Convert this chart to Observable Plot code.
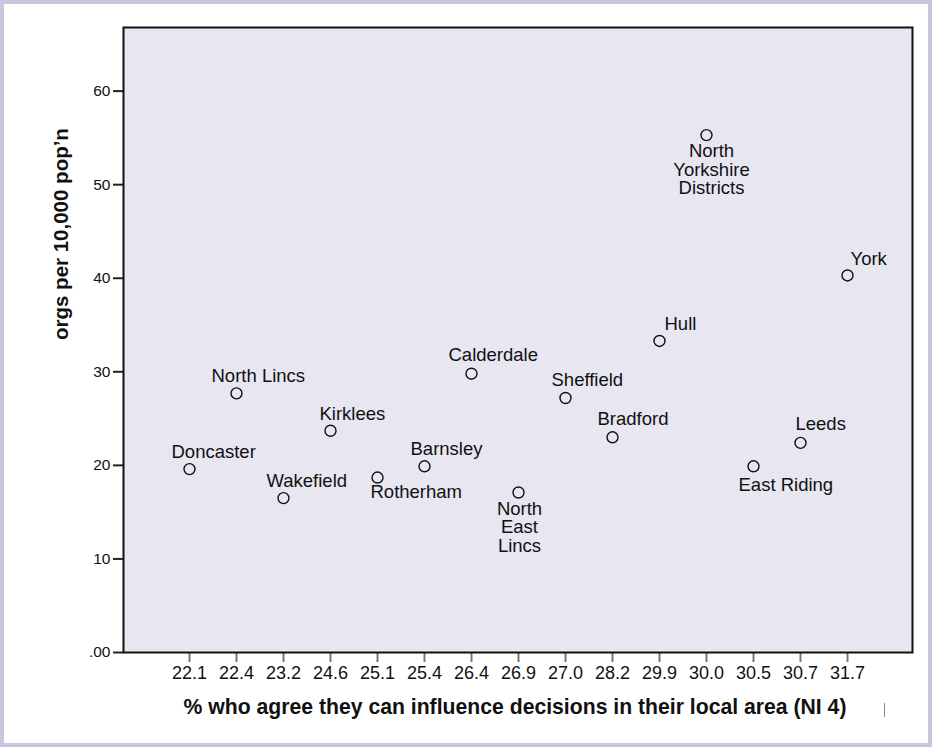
<!DOCTYPE html>
<html>
<head>
<meta charset="utf-8">
<script src="https://cdn.jsdelivr.net/npm/d3@7"></script>
<script src="https://cdn.jsdelivr.net/npm/@observablehq/plot@0.6"></script>
<style>
  html, body { margin: 0; padding: 0; background: #c9c6dd; }
  #wrap { position: absolute; left: 4px; top: 4px; width: 924px; height: 739px; background: #ffffff; }
  #wrap svg { display: block; font-family: "Liberation Sans", Arial, sans-serif; }
  #mark { position: absolute; left: 880px; top: 699px; width: 1px; height: 14px; background: #888; }
</style>
</head>
<body>
<div id="wrap"><div id="mark"></div></div>
<script>
// Data
const xCategories = ["22.1","22.4","23.2","24.6","25.1","25.4","26.4","26.9","27.0","28.2","29.9","30.0","30.5","30.7","31.7"];
const areaNames = ["Doncaster","North Lincs","Wakefield","Kirklees","Rotherham","Barnsley","Calderdale","North\nEast\nLincs","Sheffield","Bradford","Hull","North\nYorkshire\nDistricts","East Riding","Leeds","York"];
const orgsPer10k = [19.6, 27.7, 16.5, 23.7, 18.7, 19.9, 29.8, 17.1, 27.2, 23.0, 33.3, 55.3, 19.9, 22.4, 40.3];
const yTicks = [0, 10, 20, 30, 40, 50, 60];

const data = xCategories.map((x, i) => ({x, name: areaNames[i], y: orgsPer10k[i]}));

// label placement (style, not data)
const place = {
  "Doncaster": {dx: -18, dy: -17, anchor: "start"},
  "North Lincs": {dx: -25, dy: -17, anchor: "start"},
  "Wakefield": {dx: -17, dy: -17, anchor: "start"},
  "Kirklees": {dx: -11, dy: -17, anchor: "start"},
  "Rotherham": {dx: -7, dy: 15, anchor: "start"},
  "Barnsley": {dx: -14, dy: -17, anchor: "start"},
  "Calderdale": {dx: -23, dy: -19, anchor: "start"},
  "North\nEast\nLincs": {dx: 1, dy: 9, anchor: "middle", top: true},
  "Sheffield": {dx: -14, dy: -18, anchor: "start"},
  "Bradford": {dx: -15, dy: -18, anchor: "start"},
  "Hull": {dx: 5, dy: -17, anchor: "start"},
  "North\nYorkshire\nDistricts": {dx: 5, dy: 9, anchor: "middle", top: true},
  "East Riding": {dx: -15, dy: 19, anchor: "start"},
  "Leeds": {dx: -5, dy: -19, anchor: "start"},
  "York": {dx: 3, dy: -16, anchor: "start"}
};

const labelMarks = data.map(d => {
  const p = place[d.name];
  return Plot.text([d], {
    x: "x", y: "y", text: "name",
    dx: p.dx, dy: p.dy, textAnchor: p.anchor,
    lineAnchor: p.top ? "top" : "middle",
    lineHeight: 1.0,
    fontSize: 18.5, fill: "#111"
  });
});

const chart = Plot.plot({
  width: 924,
  height: 739,
  marginLeft: 119,
  marginRight: 16,
  marginTop: 23,
  marginBottom: 91,
  style: {background: "transparent", fontFamily: "Liberation Sans, Arial, sans-serif", overflow: "visible"},
  x: {type: "point", domain: xCategories, padding: 1.33, label: null},
  y: {domain: [0, 66.8], label: null},
  marks: [
    Plot.frame({fill: "#e7e6f1", stroke: "none"}),
    Plot.axisY({ticks: yTicks, tickFormat: d => d === 0 ? ".00" : String(d), tickSize: 10, tickPadding: 3,
      strokeWidth: 2, stroke: "#222", fontSize: 15.5, fill: "#111"}),
    Plot.axisX({tickSize: 10, tickPadding: 4, strokeWidth: 2, stroke: "#777", fontSize: 18, fill: "#111"}),
    Plot.text(["orgs per 10,000 pop’n"], {frameAnchor: "left", dx: -62, rotate: -90, fontSize: 20.5, fontWeight: "bold", fill: "#111"}),
    Plot.text(["% who agree they can influence decisions in their local area (NI 4)"], {frameAnchor: "bottom", dy: 61, dx: -3, fontSize: 21.2, fontWeight: "bold", fill: "#111"}),
    Plot.frame({stroke: "#111", strokeWidth: 2}),
    Plot.dot(data, {x: "x", y: "y", r: 5.5, stroke: "#111", strokeWidth: 1.4, fill: "none"}),
    ...labelMarks
  ]
});
document.getElementById("wrap").appendChild(chart);
</script>
</body>
</html>
